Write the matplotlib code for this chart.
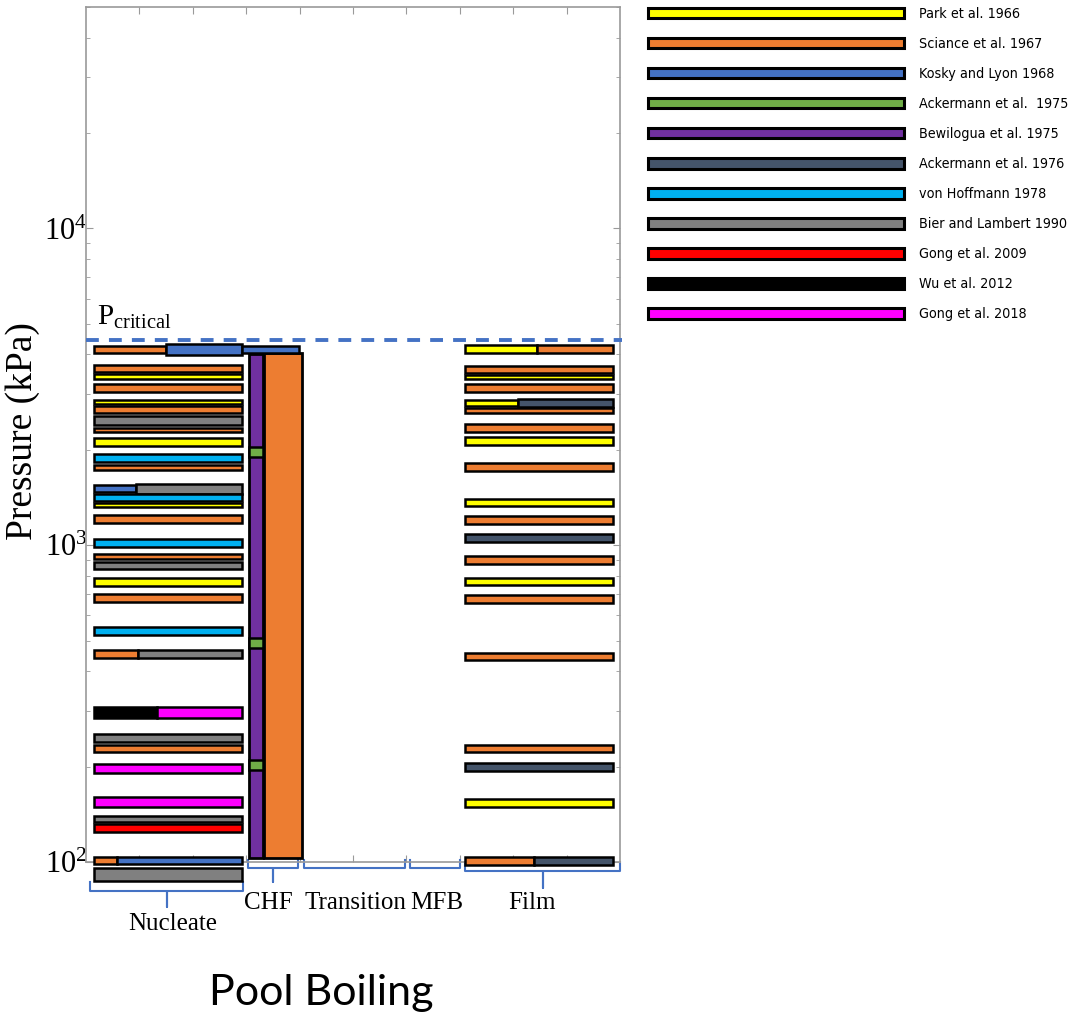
import numpy as np
import matplotlib.pyplot as plt
from matplotlib.patches import Rectangle, Patch

plt.rcParams['font.family'] = 'Liberation Serif'
plt.rcParams['mathtext.fontset'] = 'stix'

authors = ['Park et al. 1966', 'Sciance et al. 1967', 'Kosky and Lyon 1968',
           'Ackermann et al.  1975', 'Bewilogua et al. 1975', 'Ackermann et al. 1976',
           'von Hoffmann 1978', 'Bier and Lambert 1990', 'Gong et al. 2009',
           'Wu et al. 2012', 'Gong et al. 2018']
colors = ['#FFFF00', '#ED7D31', '#4472C4', '#70AD47', '#7030A0', '#44546A',
          '#00B0F0', '#808080', '#FF0000', '#000000', '#FF00FF']

regimes = ['Nucleate', 'CHF', 'Transition', 'MFB', 'Film']
p_critical = 4460

# nucleate boiling: pressure (kPa) of each row and the studies in it (left, right)
nuc_p = [4150, 3620, 3420, 3146, 2841, 2690, 2483, 2318, 2124, 1891, 1764, 1509,
         1418, 1338, 1212, 1018, 923, 865, 767, 680, 535, 452, 297, 246, 228,
         197, 155, 137, 128, 101, 91.3]
nuc_who = [(1, 2), (1,), (0,), (1,), (0,), (1,), (7,), (1,), (0,), (6,), (1,), (2, 7),
           (6,), (0,), (1,), (6,), (1,), (7,), (0,), (1,), (6,), (1, 7), (9, 10), (7,),
           (1,), (10,), (10,), (7,), (8,), (1, 2), (7,)]

# film boiling rows
film_p = [4150, 3597, 3407, 3146, 2818, 2670, 2350, 2132, 1764, 1362, 1200, 1056,
          900, 767, 675, 446, 228, 199, 154, 100.4]
film_who = [(0, 1), (1,), (0,), (1,), (0, 5), (1,), (1,), (0,), (1,), (0,), (1,), (5,),
            (1,), (0,), (1,), (1,), (1,), (5,), (0,), (1, 5)]

# CHF: pressure span of Bewilogua and Sciance, Ackermann 1975 points, Kosky top
chf_who = [4, 1]
chf_lo = [103, 103]
chf_hi = [4000, 4040]
ack75_p = [1974, 492, 202]
kosky_chf_p = 4150

# ---- layout / style ----
PX_DEC = 316.5  # pixels per decade
nuc_x = (0.155, 2.93)
film_x = (7.10, 9.87)
chf_x = [(3.05, 3.32), (3.34, 4.04)]
nuc_h = [9, 9, 7, 10, 6, 9, 11, 6, 10, 10, 7, 9, 9, 6, 10, 10, 7, 9, 10, 10, 10, 10,
         13, 10, 9, 11, 12, 8, 10, 9, 15]
nuc_cut = {0: 0.483, 11: 0.28, 21: 0.294, 22: 0.42, 29: 0.153}
nuc_h2 = {0: 13, 11: 12}
film_h = [10, 9, 6, 10, 8, 7, 10, 10, 10, 9, 10, 10, 10, 9, 10, 9, 9, 10, 10, 10]
film_cut = {0: 0.484, 4: 0.355, 19: 0.464}
film_h2 = {4: 10}


def bar(ax, x0, x1, p, h_px, color, lw=1.8):
    f = 10 ** ((h_px - 2) / 2 / PX_DEC)
    ax.add_patch(Rectangle((x0, p / f), x1 - x0, p * f - p / f, facecolor=color,
                           edgecolor='black', linewidth=lw, clip_on=False, zorder=3))


def draw_rows(ax, ps, who, xr, hs, cuts, h2):
    for i, (p, w) in enumerate(zip(ps, who)):
        if len(w) == 1:
            bar(ax, xr[0], xr[1], p, hs[i], colors[w[0]])
        else:
            xc = xr[0] + cuts[i] * (xr[1] - xr[0])
            bar(ax, xr[0], xc, p, hs[i], colors[w[0]])
            bar(ax, xc, xr[1], p, h2.get(i, hs[i]), colors[w[1]])


fig = plt.figure(figsize=(10.74, 10.15), dpi=100)
ax = fig.add_axes([86 / 1074, 153 / 1015, 534 / 1074, 855 / 1015])
ax.set_yscale('log')
ax.set_ylim(100, 5e4)
ax.set_xlim(0, 10)

draw_rows(ax, nuc_p, nuc_who, nuc_x, nuc_h, nuc_cut, nuc_h2)
draw_rows(ax, film_p, film_who, film_x, film_h, film_cut, film_h2)

for (x0, x1), w, lo, hi in zip(chf_x, chf_who, chf_lo, chf_hi):
    ax.add_patch(Rectangle((x0, lo), x1 - x0, hi - lo, facecolor=colors[w],
                           edgecolor='black', linewidth=2.0, clip_on=False, zorder=3))
for p in ack75_p:
    bar(ax, chf_x[0][0], chf_x[0][1], p, 12, colors[3])
bar(ax, nuc_x[1], 3.99, kosky_chf_p, 9, colors[2])

ax.axhline(p_critical, xmin=0, xmax=1.004, color='#4472C4', lw=2.8,
           dashes=(3.3, 2.6), clip_on=False, zorder=4)
ax.annotate(r'$\mathregular{P_{critical}}$', xy=(0.2, p_critical), xytext=(0, 6),
            textcoords='offset points', fontsize=21, va='bottom')

# axes styling
for s in ax.spines.values():
    s.set_color('#9a9a9a')
    s.set_linewidth(1.2)
ax.set_xticks(range(1, 10))
ax.tick_params(axis='x', which='both', direction='in', top=True, bottom=True,
               labelbottom=False, length=5, color='#9a9a9a')
ax.tick_params(axis='y', which='major', direction='in', right=True, length=5,
               pad=-1, labelsize=22, color='#9a9a9a')
ax.tick_params(axis='y', which='minor', direction='in', right=True, length=3,
               color='#9a9a9a')
ax.set_ylabel('Pressure (kPa)', fontsize=27)
ax.yaxis.set_label_coords(-0.086, 0.504)

# regime brackets and labels
br_x = [(0.075, 2.94), (3.03, 3.97), (4.08, 5.97), (6.07, 7.0), (7.10, 10.0)]
br_y = [(-0.023, -0.034, -0.053), (0.002, -0.007, -0.023), (0.002, -0.007, -0.007),
        (0.002, -0.007, -0.007), (0.0, -0.010, -0.030)]
lab_x = [1.62, 3.42, 5.05, 6.56, 8.36]
lab_y = [-0.073, -0.048, -0.048, -0.048, -0.048]
tr = ax.get_xaxis_transform()
for (x0, x1), (yt, yl, yk), name, lx, ly in zip(br_x, br_y, regimes, lab_x, lab_y):
    xc = (x0 + x1) / 2
    ax.plot([x0, x0, xc, xc, xc, x1, x1], [yt, yl, yl, yk, yl, yl, yt],
            color='#4472C4', lw=1.5, transform=tr, clip_on=False)
    ax.text(lx, ly, name, transform=tr, ha='center', va='center', fontsize=18)

fig.text(321 / 1074, 0.022, 'Pool Boiling', ha='center', va='center',
         fontsize=31, family='Lato')

handles = [Patch(facecolor=c, edgecolor='black', linewidth=2.2, label=a)
           for a, c in zip(authors, colors)]
fig.legend(handles=handles, loc='upper left', bbox_to_anchor=(648 / 1074, 1 - 7 / 1015),
           frameon=False, borderpad=0, borderaxespad=0,
           prop={'family': 'DejaVu Sans', 'stretch': 'condensed', 'size': 10.3},
           handlelength=17.9, handleheight=0.78, labelspacing=1.12,
           handletextpad=1.05)

fig.savefig('out.png', dpi=100)
